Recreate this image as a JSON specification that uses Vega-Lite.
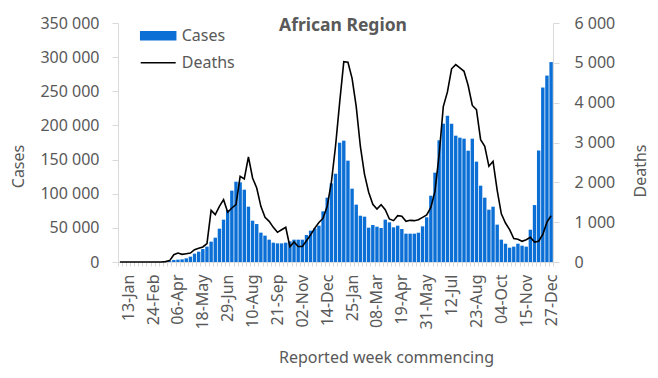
{
"$schema": "https://vega.github.io/schema/vega-lite/v6.json",
"width": 435, "height": 239,
"autosize": {"type": "none"},
"padding": {"left": 118, "top": 23, "right": 105, "bottom": 116},
"background": "white",
"config": {"font": "Noto Sans", "view": {"stroke": null}},
"title": {"text": "African Region", "fontSize": 17.5, "fontWeight": "bold", "color": "#595959", "anchor": "middle", "frame": "group", "dx": 7.5, "offset": 0, "dy": 33, "baseline": "alphabetic"},
"data": {"values": [
{"w":"30-Dec","c":0,"d":0},{"w":"06-Jan","c":0,"d":0},{"w":"13-Jan","c":0,"d":0},{"w":"20-Jan","c":0,"d":0},{"w":"27-Jan","c":0,"d":0},
{"w":"03-Feb","c":0,"d":0},{"w":"10-Feb","c":0,"d":0},{"w":"17-Feb","c":1,"d":0},{"w":"24-Feb","c":2,"d":0},{"w":"02-Mar","c":5,"d":0},
{"w":"09-Mar","c":60,"d":1},{"w":"16-Mar","c":400,"d":10},{"w":"23-Mar","c":1300,"d":35},{"w":"30-Mar","c":3000,"d":184},{"w":"06-Apr","c":3400,"d":226},
{"w":"13-Apr","c":3900,"d":193},{"w":"20-Apr","c":5400,"d":209},{"w":"27-Apr","c":7800,"d":226},{"w":"04-May","c":12200,"d":310},{"w":"11-May","c":15100,"d":343},
{"w":"18-May","c":19000,"d":377},{"w":"25-May","c":22500,"d":460},{"w":"01-Jun","c":29800,"d":1297},{"w":"08-Jun","c":35600,"d":1189},{"w":"15-Jun","c":48800,"d":1398},
{"w":"22-Jun","c":62000,"d":1565},{"w":"29-Jun","c":76100,"d":1247},{"w":"06-Jul","c":104500,"d":1356},{"w":"13-Jul","c":117600,"d":1440},{"w":"20-Jul","c":116700,"d":2151},
{"w":"27-Jul","c":105900,"d":2084},{"w":"03-Aug","c":81000,"d":2637},{"w":"10-Aug","c":60500,"d":2110},{"w":"17-Aug","c":55600,"d":1858},{"w":"24-Aug","c":43000,"d":1398},
{"w":"31-Aug","c":38600,"d":1120},{"w":"07-Sep","c":32700,"d":1021},{"w":"14-Sep","c":28300,"d":870},{"w":"21-Sep","c":27300,"d":745},{"w":"28-Sep","c":27300,"d":810},
{"w":"05-Oct","c":28300,"d":870},{"w":"12-Oct","c":30300,"d":385},{"w":"19-Oct","c":32700,"d":505},{"w":"26-Oct","c":32700,"d":390},{"w":"02-Nov","c":32700,"d":390},
{"w":"09-Nov","c":39500,"d":535},{"w":"16-Nov","c":45900,"d":680},{"w":"23-Nov","c":49300,"d":850},{"w":"30-Nov","c":53200,"d":990},{"w":"07-Dec","c":74200,"d":1100},
{"w":"14-Dec","c":94200,"d":1400},{"w":"21-Dec","c":115200,"d":2000},{"w":"28-Dec","c":129300,"d":2900},{"w":"04-Jan","c":174700,"d":4000},{"w":"11-Jan","c":177700,"d":5030},
{"w":"18-Jan","c":148400,"d":5014},{"w":"25-Jan","c":107400,"d":4612},{"w":"01-Feb","c":84000,"d":3900},{"w":"08-Feb","c":67800,"d":2900},{"w":"15-Feb","c":66400,"d":2200},
{"w":"22-Feb","c":50300,"d":1750},{"w":"01-Mar","c":54200,"d":1450},{"w":"08-Mar","c":51700,"d":1330},{"w":"15-Mar","c":49800,"d":1440},{"w":"22-Mar","c":62000,"d":1314},
{"w":"29-Mar","c":58100,"d":1080},{"w":"05-Apr","c":50800,"d":1038},{"w":"12-Apr","c":53200,"d":1163},{"w":"19-Apr","c":48300,"d":1147},{"w":"26-Apr","c":41500,"d":1021},
{"w":"03-May","c":41500,"d":1046},{"w":"10-May","c":41500,"d":1038},{"w":"17-May","c":42900,"d":1063},{"w":"24-May","c":52200,"d":1120},{"w":"31-May","c":65400,"d":1180},
{"w":"07-Jun","c":97100,"d":1370},{"w":"14-Jun","c":130800,"d":1780},{"w":"21-Jun","c":178200,"d":2700},{"w":"28-Jun","c":202600,"d":3900},{"w":"05-Jul","c":214300,"d":4270},
{"w":"12-Jul","c":202600,"d":4850},{"w":"19-Jul","c":185000,"d":4955},{"w":"26-Jul","c":182100,"d":4871},{"w":"02-Aug","c":180600,"d":4788},{"w":"09-Aug","c":163000,"d":4430},
{"w":"16-Aug","c":180600,"d":3930},{"w":"23-Aug","c":147000,"d":3825},{"w":"30-Aug","c":111800,"d":3072},{"w":"06-Sep","c":94200,"d":2904},{"w":"13-Sep","c":76600,"d":2402},
{"w":"20-Sep","c":81000,"d":2528},{"w":"27-Sep","c":54700,"d":1800},{"w":"04-Oct","c":32700,"d":1210},{"w":"11-Oct","c":26800,"d":979},{"w":"18-Oct","c":21000,"d":812},
{"w":"25-Oct","c":22500,"d":590},{"w":"01-Nov","c":26800,"d":570},{"w":"08-Nov","c":23900,"d":520},{"w":"15-Nov","c":22500,"d":560},{"w":"22-Nov","c":47300,"d":620},
{"w":"29-Nov","c":83400,"d":500},{"w":"06-Dec","c":163300,"d":520},{"w":"13-Dec","c":255500,"d":690},{"w":"20-Dec","c":273000,"d":1000},{"w":"27-Dec","c":292800,"d":1160}
]},
"encoding": {
 "x": {"field": "w", "type": "ordinal", "sort": null,
  "scale": {"paddingInner": 0.18, "paddingOuter": 0.05},
  "axis": {"title": "Reported week commencing", "labelAngle": -90,
   "labelExpr": "indexof(['13-Jan','24-Feb','06-Apr','18-May','29-Jun','10-Aug','21-Sep','02-Nov','14-Dec','25-Jan','08-Mar','19-Apr','31-May','12-Jul','23-Aug','04-Oct','15-Nov','27-Dec'], datum.value) >= 0 ? datum.value : ''",
   "labelOverlap": false, "labelFontSize": 16, "labelColor": "#595959", "labelPadding": 8,
   "tickSize": 4, "tickColor": "#d9d9d9", "domainColor": "#d9d9d9", "tickBand": "extent",
   "titleFontSize": 16, "titleColor": "#595959", "titleFontWeight": "normal",
   "titleX": 268, "titleY": 95, "titleBaseline": "middle", "titleAlign": "center"}}
},
"layer": [
 {"mark": {"type": "bar"},
  "encoding": {
   "y": {"field": "c", "type": "quantitative", "scale": {"domain": [0, 350000], "nice": false},
    "axis": {"title": "Cases", "values": [0,50000,100000,150000,200000,250000,300000,350000],
     "labelExpr": "replace(format(datum.value, ','), ',', ' ')", "grid": false,
     "labelFontSize": 16, "labelColor": "#595959", "labelPadding": 13, "tickSize": 6,
     "tickColor": "#d9d9d9", "domainColor": "#d9d9d9",
     "titleFontSize": 16, "titleColor": "#595959", "titleFontWeight": "normal",
     "titleX": -100, "titleY": 143, "titleBaseline": "middle", "titleAlign": "center", "titleAngle": -90}},
   "color": {"datum": "Cases", "type": "nominal",
    "scale": {"domain": ["Cases", "Deaths"], "range": ["#0b6fd6", "#000000"]},
    "legend": {"title": null, "orient": "none", "legendX": 21.7, "legendY": -5.8, "padding": 0,
     "symbolSize": 1225, "rowPadding": -11, "labelOffset": 5, "labelFontSize": 16, "labelColor": "#595959",
     "encode": {"symbols": {"update": {
      "shape": {"signal": "datum.value === 'Cases' ? 'M-1,-0.23H1V0.23H-1Z' : 'M-1,0H1'"},
      "fill": {"signal": "datum.value === 'Cases' ? '#0b6fd6' : 'transparent'"},
      "stroke": {"signal": "datum.value === 'Cases' ? 'transparent' : '#000000'"},
      "strokeWidth": {"value": 1.5},
      "size": {"value": 1225},
      "opacity": {"value": 1}}}}}}
  }},
 {"mark": {"type": "line", "strokeWidth": 1.6},
  "encoding": {
   "y": {"field": "d", "type": "quantitative", "scale": {"domain": [0, 6000], "nice": false},
    "axis": {"orient": "right", "title": "Deaths", "values": [0,1000,2000,3000,4000,5000,6000],
     "labelExpr": "replace(format(datum.value, ','), ',', ' ')", "grid": false,
     "labelFontSize": 16, "labelColor": "#595959", "labelPadding": 15, "tickSize": 6,
     "tickColor": "#d9d9d9", "domainColor": "#d9d9d9",
     "titleFontSize": 16, "titleColor": "#595959", "titleFontWeight": "normal",
     "titleX": 87.5, "titleY": 147.5, "titleBaseline": "middle", "titleAlign": "center", "titleAngle": -90}},
   "color": {"datum": "Deaths", "type": "nominal"}
  }}
],
"resolve": {"scale": {"y": "independent"}}
}
